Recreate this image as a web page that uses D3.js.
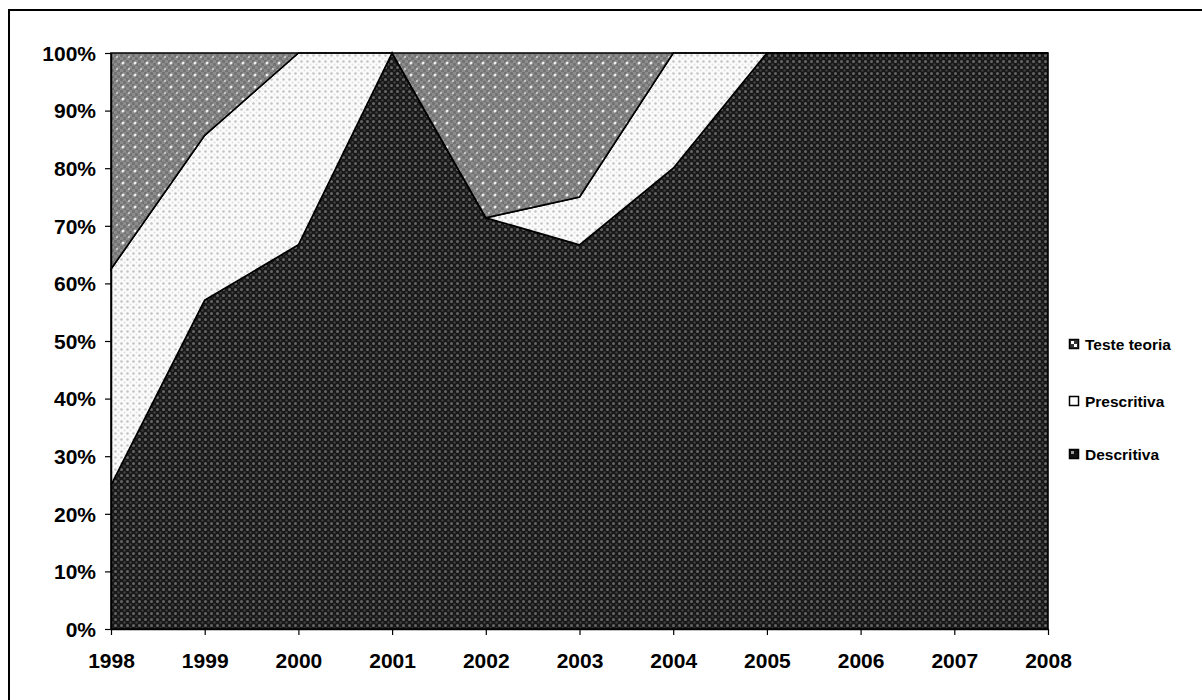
<!DOCTYPE html>
<html><head><meta charset="utf-8">
<script src="https://cdn.jsdelivr.net/npm/d3@7"></script>
<style>body{margin:0;background:#fff;}svg{display:block;}text{font-family:"Liberation Sans",Arial,sans-serif;font-weight:bold;}</style>
</head><body>
<script>
const years = [1998,1999,2000,2001,2002,2003,2004,2005,2006,2007,2008];
const seriesNames = ["Descritiva","Prescritiva","Teste teoria"];
const descritiva = [25.0,57.1,66.7,100,71.4,66.7,80,100,100,100,100];
const prescritiva = [37.5,28.6,33.3,0,0,8.3,20,0,0,0,0];
const testeTeoria = [37.5,14.3,0,0,28.6,25.0,0,0,0,0,0];
const yTicks = [0,10,20,30,40,50,60,70,80,90,100];

const W=1202,H=700;
const svg=d3.select("body").append("svg").attr("width",W).attr("height",H);
const defs=svg.append("defs");
// patterns
const pD=defs.append("pattern").attr("id","pD").attr("width",6).attr("height",6).attr("patternUnits","userSpaceOnUse");
pD.append("rect").attr("width",6).attr("height",6).attr("fill","#181818");
pD.append("circle").attr("cx",1.5).attr("cy",1.5).attr("r",1.5).attr("fill","#666");
pD.append("circle").attr("cx",4.5).attr("cy",4.5).attr("r",1.2).attr("fill","#404040");
const pP=defs.append("pattern").attr("id","pP").attr("width",6).attr("height",6).attr("patternUnits","userSpaceOnUse");
pP.append("rect").attr("width",6).attr("height",6).attr("fill","#fbfbfb");
pP.append("circle").attr("cx",1.5).attr("cy",1.5).attr("r",1.3).attr("fill","#c4c4c4");
pP.append("circle").attr("cx",4.5).attr("cy",4.5).attr("r",1.0).attr("fill","#e0e0e0");
const pT=defs.append("pattern").attr("id","pT").attr("width",12).attr("height",12).attr("patternUnits","userSpaceOnUse");
pT.append("rect").attr("width",12).attr("height",12).attr("fill","#8c8c8c");
[[0,0],[6,0],[3,3],[9,3],[0,6],[6,6],[3,9],[9,9]].forEach(([x,y])=>pT.append("rect").attr("x",x).attr("y",y).attr("width",3).attr("height",3).attr("fill","#747474"));
pT.append("circle").attr("cx",3).attr("cy",3).attr("r",1.5).attr("fill","#eeeeee");
pT.append("circle").attr("cx",9).attr("cy",9).attr("r",1.2).attr("fill","#c4c4c4");

// outer frame
svg.append("rect").attr("x",9).attr("y",10).attr("width",1210).attr("height",720).attr("fill","none").attr("stroke","#000").attr("stroke-width",2);

const x=d3.scaleLinear().domain([1998,2008]).range([111,1048]);
const y=d3.scaleLinear().domain([0,100]).range([629,53]);

const data=years.map((yr,i)=>({year:yr,"Descritiva":descritiva[i],"Prescritiva":prescritiva[i],"Teste teoria":testeTeoria[i]}));
const stack=d3.stack().keys(seriesNames)(data);
const fills={"Descritiva":"url(#pD)","Prescritiva":"url(#pP)","Teste teoria":"url(#pT)"};
const area=d3.area().x(d=>x(d.data.year)).y0(d=>y(d[0])).y1(d=>y(d[1]));
svg.append("g").selectAll("path").data(stack).join("path")
  .attr("d",area).attr("fill",d=>fills[d.key]).attr("stroke","#000").attr("stroke-width",1.6).attr("stroke-linejoin","miter");

// axes
const gy=svg.append("g").attr("transform","translate(111,0)")
  .call(d3.axisLeft(y).tickValues(yTicks).tickFormat(d=>d+"%").tickSize(6).tickSizeOuter(0));
gy.select(".domain").attr("stroke","#000").attr("stroke-width",1.5);
gy.selectAll(".tick line").attr("stroke","#000").attr("stroke-width",1.2);
gy.selectAll("text").attr("font-size",21).attr("fill","#000").attr("x",-15).attr("dy","0.35em");
const gx=svg.append("g").attr("transform","translate(0,629)")
  .call(d3.axisBottom(x).tickValues(years).tickFormat(d3.format("d")).tickSize(6).tickSizeOuter(0));
gx.select(".domain").attr("stroke","#000").attr("stroke-width",1.5);
gx.selectAll(".tick line").attr("stroke","#000").attr("stroke-width",1.2);
gx.selectAll("text").attr("font-size",21).attr("fill","#000").attr("y",24).attr("dy","0.71em");

// legend
const legendRows=[{k:"Teste teoria",y:345},{k:"Prescritiva",y:402},{k:"Descritiva",y:455}];
const lg=svg.append("g");
legendRows.forEach(r=>{
  lg.append("rect").attr("x",1069.5).attr("y",r.y-5.5).attr("width",9).attr("height",9)
    .attr("fill",r.k==="Prescritiva"?"#fff":(r.k==="Descritiva"?"#111":"#333")).attr("stroke","#000").attr("stroke-width",1.5);
  if(r.k!=="Prescritiva"){
    lg.append("rect").attr("x",1071).attr("y",r.y-4).attr("width",3).attr("height",3).attr("fill",r.k==="Descritiva"?"#999":"#fff");
    if(r.k==="Teste teoria") lg.append("rect").attr("x",1074).attr("y",r.y-1).attr("width",3).attr("height",3).attr("fill","#fff");
  }
  lg.append("text").attr("x",1085).attr("y",r.y).attr("dy","0.35em").attr("font-size",15.5).attr("fill","#000").text(r.k);
});
</script>
</body></html>
